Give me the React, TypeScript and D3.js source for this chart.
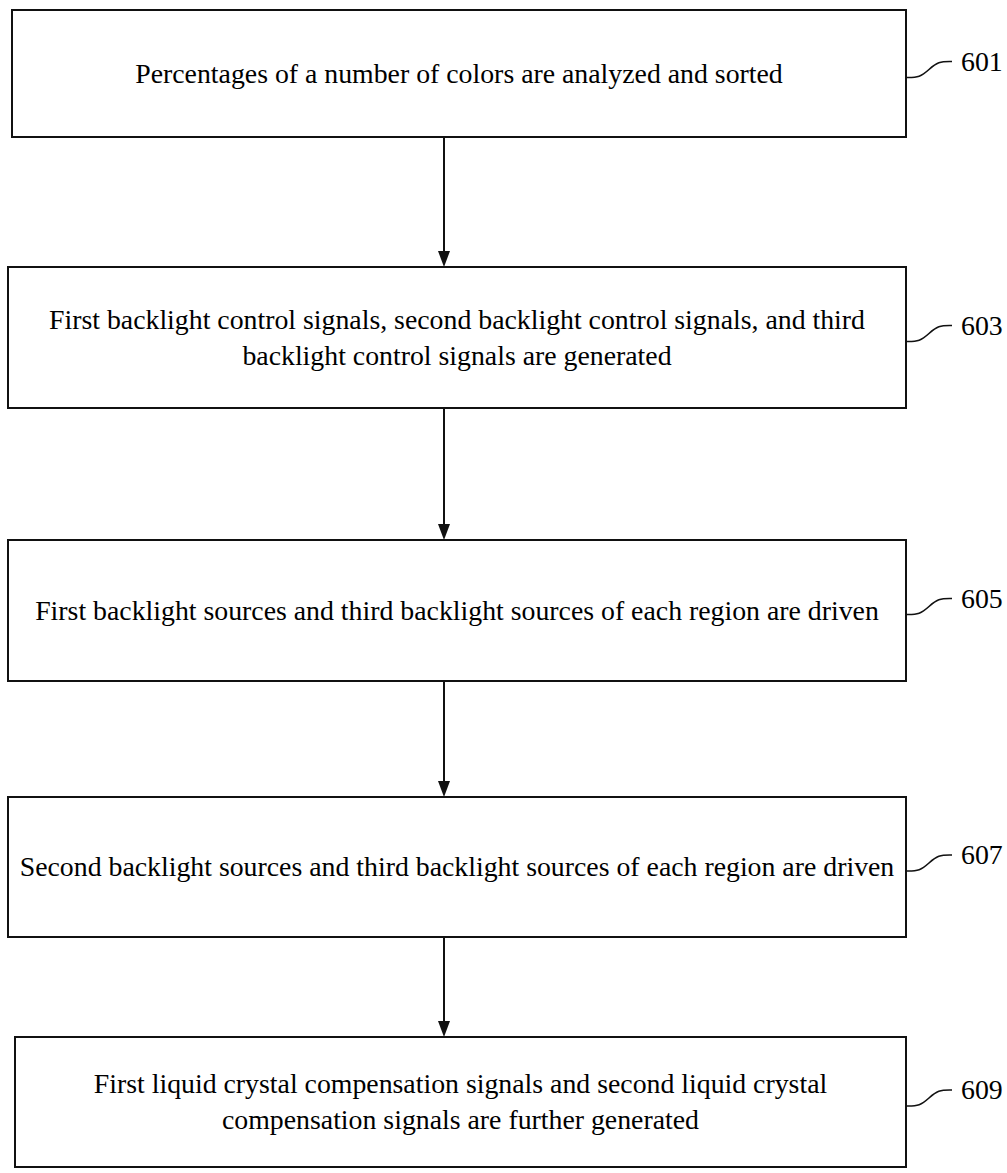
import React from "react";
import * as d3 from "d3";

const stepLabels = ["601", "603", "605", "607", "609"];
const stepLines = [
  ["Percentages of a number of colors are analyzed and sorted"],
  [
    "First backlight control signals, second backlight control signals, and third",
    "backlight control signals are generated",
  ],
  ["First backlight sources and third backlight sources of each region are driven"],
  ["Second backlight sources and third backlight sources of each region are driven"],
  [
    "First liquid crystal compensation signals and second liquid crystal",
    "compensation signals are further generated",
  ],
];
// layout (pixels)
const boxTop = [10, 267, 540, 797, 1037];
const boxBottom = [137, 408, 681, 937, 1167];
const boxLeft = [12, 8, 8, 8, 15];
const boxRight = 906;
const arrowX = 444;

const lineH = 36;
const textStyle = { fontFamily: `"Liberation Serif"`, fontSize: "27.8px" };

export default function App() {
  const curve = d3.line().curve(d3.curveBasis);
  return (
    <svg width={1007} height={1173} style={{ position: "absolute", left: 0, top: 0 }}>
      <rect x={0} y={0} width={1007} height={1173} fill="white" />
      {stepLabels.map((lab, i) => {
        const x0 = boxLeft[i];
        const y0 = boxTop[i];
        const y1 = boxBottom[i];
        const cy = (y0 + y1) / 2;
        const cx = (x0 + boxRight) / 2;
        const lines = stepLines[i];
        const sy = cy + 4;
        const ey = cy - 12;
        const ex = boxRight + 46;
        const squiggle = curve([
          [boxRight, sy],
          [boxRight + 14, sy],
          [boxRight + 23, sy - 8],
          [ex - 14, ey],
          [ex, ey],
        ] as [number, number][]);
        return (
          <g key={lab}>
            <rect
              x={x0}
              y={y0}
              width={boxRight - x0}
              height={y1 - y0}
              fill="none"
              stroke="#111"
              strokeWidth={2}
            />
            {lines.map((t, j) => (
              <text
                key={j}
                x={cx}
                y={cy + (j - (lines.length - 1) / 2) * lineH + 9}
                textAnchor="middle"
                style={textStyle}
              >
                {t}
              </text>
            ))}
            <path d={squiggle || ""} fill="none" stroke="#111" strokeWidth={1.6} />
            <text x={ex + 9} y={ey + 9} style={textStyle}>
              {lab}
            </text>
            {i < stepLabels.length - 1 && (
              <g>
                <line
                  x1={arrowX}
                  x2={arrowX}
                  y1={y1}
                  y2={boxTop[i + 1] - 12}
                  stroke="#111"
                  strokeWidth={2}
                />
                <path
                  d={`M${arrowX - 6},${boxTop[i + 1] - 16} L${arrowX + 6},${
                    boxTop[i + 1] - 16
                  } L${arrowX},${boxTop[i + 1]} Z`}
                  fill="#111"
                />
              </g>
            )}
          </g>
        );
      })}
    </svg>
  );
}
